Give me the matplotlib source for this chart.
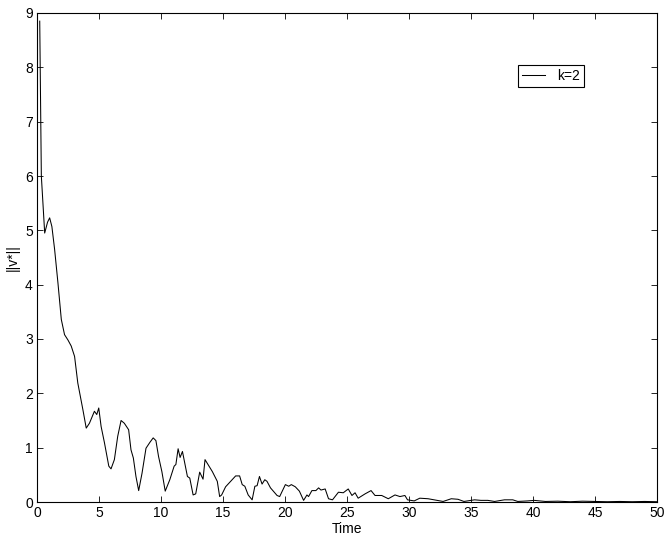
import matplotlib
matplotlib.use("Agg")
import matplotlib.pyplot as plt

plt.rcParams['font.family'] = ['Liberation Sans', 'DejaVu Sans']

time = [0.22, 0.35, 0.62, 0.85, 1.02, 1.2, 1.42, 1.69, 1.96, 2.22, 2.5, 2.76, 3.03, 3.29, 3.7, 3.97,
        4.23, 4.63, 4.82, 4.98, 5.17, 5.44, 5.79, 5.97, 6.24, 6.51, 6.78, 7.04, 7.39, 7.58, 7.77,
        7.98, 8.2, 8.47, 8.79, 9.11, 9.37, 9.59, 9.8, 10.07, 10.34, 10.71, 11.06, 11.2, 11.38,
        11.54, 11.73, 12.13, 12.32, 12.59, 12.8, 13.12, 13.39, 13.55, 13.87, 14.14, 14.54, 14.73,
        14.89, 15.21, 15.61, 16.02, 16.34, 16.55, 16.76, 17.03, 17.35, 17.57, 17.75, 17.94, 18.15,
        18.37, 18.55, 18.83, 19.36, 19.57, 20.03, 20.3, 20.51, 20.83, 21.16, 21.5, 21.77, 21.9,
        22.17, 22.49, 22.71, 22.9, 23.24, 23.51, 23.83, 24.31, 24.7, 25.1, 25.4, 25.65, 25.9,
        26.46, 26.94, 27.26, 27.8, 28.33, 28.87, 29.27, 29.67, 29.88, 30.42, 30.87, 31.54, 32.02,
        32.75, 33.41, 33.95, 34.43, 35.29, 35.8, 36.36, 36.9, 37.7, 38.37, 38.77, 39.57, 40.1,
        41.0, 42.0, 43.0, 44.0, 45.0, 46.0, 47.0, 48.0, 49.0, 50.0]
vnorm = [8.85, 6.0, 4.95, 5.15, 5.23, 5.07, 4.65, 4.03, 3.36, 3.08, 2.98, 2.87, 2.68, 2.19, 1.70, 1.36,
         1.45, 1.67, 1.61, 1.73, 1.39, 1.09, 0.66, 0.61, 0.78, 1.21, 1.50, 1.45, 1.33, 0.96, 0.81,
         0.47, 0.21, 0.53, 0.99, 1.10, 1.18, 1.13, 0.84, 0.56, 0.20, 0.41, 0.66, 0.69, 0.98,
         0.82, 0.93, 0.47, 0.44, 0.13, 0.15, 0.55, 0.42, 0.78, 0.66, 0.56, 0.38, 0.10,
         0.13, 0.28, 0.38, 0.48, 0.48, 0.32, 0.29, 0.13, 0.04, 0.29, 0.30, 0.47, 0.33,
         0.41, 0.38, 0.26, 0.12, 0.10, 0.32, 0.29, 0.32, 0.28, 0.20, 0.03, 0.13, 0.10,
         0.21, 0.21, 0.26, 0.22, 0.24, 0.06, 0.04, 0.18, 0.17, 0.24, 0.12, 0.17, 0.07,
         0.15, 0.21, 0.12, 0.12, 0.06, 0.13, 0.10, 0.12, 0.04, 0.02, 0.07, 0.06, 0.04,
         0.01, 0.06, 0.05, 0.01, 0.04, 0.03, 0.03, 0.01, 0.04, 0.04, 0.01, 0.02, 0.03,
         0.01, 0.015, 0.005, 0.015, 0.01, 0.005, 0.01, 0.005, 0.01, 0.005]

xticks = [0, 5, 10, 15, 20, 25, 30, 35, 40, 45, 50]
yticks = [0, 1, 2, 3, 4, 5, 6, 7, 8, 9]

fig = plt.figure(figsize=(6.71, 5.42), dpi=100)
ax = fig.add_axes([37/671, 1-502/542, 620/671, 489/542])
ax.plot(time, vnorm, color='black', lw=0.75, label='k=2')
ax.set_xlim(0, 50)
ax.set_ylim(0, 9)
ax.set_xticks(xticks)
ax.set_yticks(yticks)
ax.tick_params(direction='in', top=True, right=True, labelsize=10, length=4, width=0.6, pad=3)
for s in ax.spines.values():
    s.set_linewidth(0.8)
ax.set_xlabel('Time', fontsize=10, labelpad=1)
ax.set_ylabel('||v*||', fontsize=10, labelpad=4)
leg = ax.legend(loc='upper left', bbox_to_anchor=(0.776, 0.894), fontsize=10, fancybox=False,
                edgecolor='black', framealpha=1, handlelength=1.6, borderpad=0.3,
                handletextpad=0.9, borderaxespad=0)
leg.get_frame().set_linewidth(0.8)
fig.savefig('out.png', dpi=100)
